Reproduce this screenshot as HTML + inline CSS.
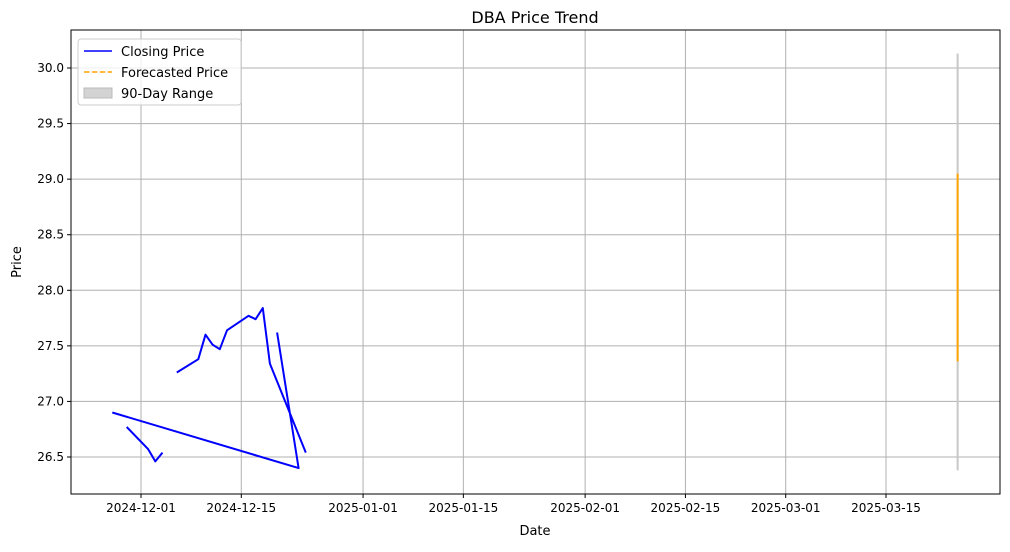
<!DOCTYPE html>
<html><head><meta charset="utf-8"><style>
body{margin:0;background:#fff;font-family:"Liberation Sans","DejaVu Sans",sans-serif}
</style></head><body>
<svg id="c" width="1010" height="547" xmlns="http://www.w3.org/2000/svg" font-family="'DejaVu Sans','Liberation Sans',sans-serif">
<text x="535" y="23" font-size="16" text-anchor="middle">DBA Price Trend</text>
<g id="grid"></g><g id="marks"></g>
<rect x="71" y="30" width="929" height="464" fill="none" stroke="#000" stroke-width="1"/>
<g id="ticks" font-size="12"></g>
<text x="535" y="535" font-size="13" text-anchor="middle">Date</text>
<text x="21" y="262" font-size="13" text-anchor="middle" transform="rotate(-90 21 262)">Price</text>
<g>
<rect x="78" y="39" width="163" height="66" rx="3" fill="#fff" fill-opacity="0.8" stroke="#ccc"/>
<line x1="84" y1="51" x2="112" y2="51" stroke="#0000ff" stroke-width="1.5"/>
<text x="121" y="56" font-size="13">Closing Price</text>
<line x1="84" y1="72" x2="112" y2="72" stroke="orange" stroke-width="1.5" stroke-dasharray="5.5,2.4"/>
<text x="121" y="77" font-size="13">Forecasted Price</text>
<rect x="84" y="88" width="28" height="10" fill="#d3d3d3" stroke="#bbb"/>
<text x="121" y="98" font-size="13">90-Day Range</text>
</g>
</svg>
<script>
const closeDates=["2024-12-06","2024-12-09","2024-12-10","2024-12-11","2024-12-12","2024-12-13","2024-12-16","2024-12-17","2024-12-18","2024-12-19","2024-12-24",null,"2024-12-20","2024-12-23","2024-11-27",null,"2024-11-29","2024-12-02","2024-12-03","2024-12-04"];
const closePrices=[27.26,27.38,27.60,27.51,27.47,27.64,27.77,27.74,27.84,27.34,26.54,null,27.62,26.40,26.90,null,26.77,26.57,26.46,26.54];
const forecastDate="2025-03-25";
const forecastRange=[27.36,29.05];
const rangeBand=[26.38,30.13];
const yTicks=[26.5,27.0,27.5,28.0,28.5,29.0,29.5,30.0];
const xTicks=["2024-12-01","2024-12-15","2025-01-01","2025-01-15","2025-02-01","2025-02-15","2025-03-01","2025-03-15"];
const NS="http://www.w3.org/2000/svg";
const t0=Date.UTC(2024,11,1);
function xs(d){const p=d.split("-");const t=Date.UTC(+p[0],+p[1]-1,+p[2]);return 141+(t-t0)/86400000*(745/104);}
function ys(v){return 457-(v-26.5)*(389/3.5);}
function mk(tag,attrs,parent){const e=document.createElementNS(NS,tag);for(const k in attrs)e.setAttribute(k,attrs[k]);document.getElementById(parent).appendChild(e);return e;}
yTicks.forEach(v=>{const y=ys(v);
const g=mk("line",{x1:71,x2:1000,y1:y,y2:y,stroke:"#b0b0b0","stroke-width":1},"grid");


mk("line",{x1:67,x2:71,y1:y,y2:y,stroke:"#000"},"ticks");
const t=mk("text",{x:64,y:y+4,"text-anchor":"end"},"ticks");t.textContent=v.toFixed(1);

});
xTicks.forEach(d=>{const x=xs(d);
const g=mk("line",{x1:x,x2:x,y1:30,y2:494,stroke:"#b0b0b0","stroke-width":1},"grid");


mk("line",{x1:x,x2:x,y1:494,y2:498,stroke:"#000"},"ticks");
const t=mk("text",{x:x,y:512,"text-anchor":"middle"},"ticks");t.textContent=d;

});
const band=mk("line",{x1:xs(forecastDate),x2:xs(forecastDate),y1:ys(rangeBand[1]),y2:ys(rangeBand[0]),stroke:"#c8c8c8","stroke-width":2},"marks");


const fc=mk("line",{x1:xs(forecastDate),x2:xs(forecastDate),y1:ys(forecastRange[1]),y2:ys(forecastRange[0]),stroke:"orange","stroke-width":2},"marks");


let d="",pen=false;
closeDates.forEach((dt,i)=>{if(dt===null){pen=false;return;}d+=(pen?"L":"M")+xs(dt).toFixed(1)+","+ys(closePrices[i]).toFixed(1);pen=true;});
const cl=mk("path",{d:d,fill:"none",stroke:"#0000ff","stroke-width":2,"stroke-linejoin":"round"},"marks");


</script>
</body></html>
